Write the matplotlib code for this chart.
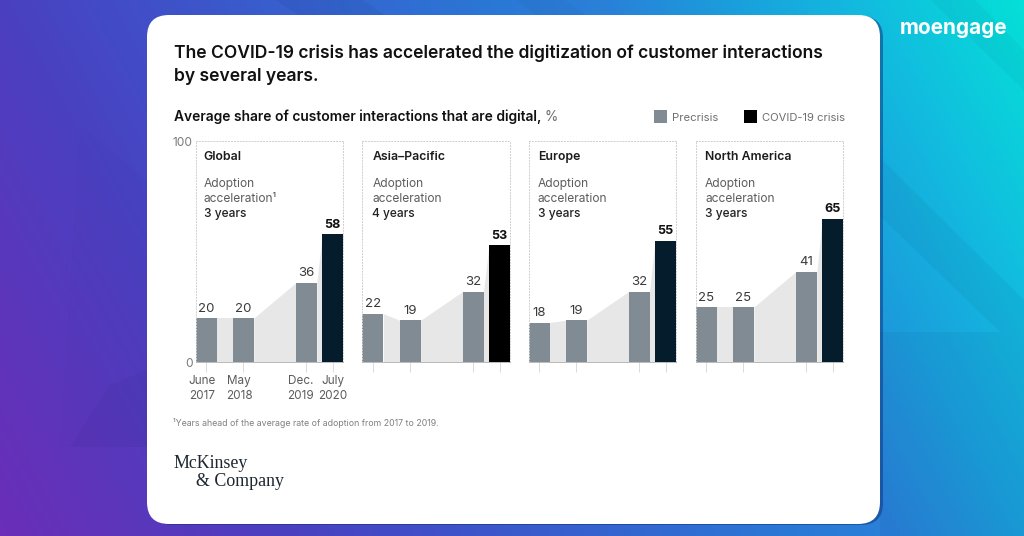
import numpy as np
import matplotlib
matplotlib.use("Agg")
import matplotlib.pyplot as plt
from matplotlib.patches import FancyBboxPatch, Polygon, Rectangle
from matplotlib.colors import LinearSegmentedColormap

plt.rcParams['font.family'] = ['Inter', 'DejaVu Sans']

regions = ["Global", "Asia\u2013Pacific", "Europe", "North America"]
years_ahead = ["3 years", "4 years", "3 years", "3 years"]
global_vals = [20, 20, 36, 58]
asia_vals = [22, 19, 32, 53]
europe_vals = [18, 19, 32, 55]
namerica_vals = [25, 25, 41, 65]
series = [global_vals, asia_vals, europe_vals, namerica_vals]
dates = [2017.42, 2018.35, 2019.92, 2020.58]
date_labels = ["June\n2017", "May\n2018", "Dec.\n2019", "July\n2020"]
legend_labels = ["Precrisis", "COVID-19 crisis"]

W, H = 1024, 536
GREY = "#808b94"
NAVY = "#041c2c"
TXT = "#1c1c1c"
SOFT = "#6e6e6e"
fs = lambda px: px * 0.72

fig = plt.figure(figsize=(W / 100, H / 100), dpi=100)
bg = fig.add_axes([0, 0, 1, 1])
bg.set_xlim(0, W); bg.set_ylim(H, 0); bg.axis("off")

# gradient background
yy, xx = np.mgrid[0:1:134j, 0:1:256j]
t = np.clip(xx * 0.78 + (1 - yy) * 0.22, 0, 1)
cmap = LinearSegmentedColormap.from_list("bg", [
    (0, "#6a2eb8"), (0.22, "#4a40c0"), (0.33, "#4050c8"), (0.6, "#2a78d6"),
    (0.68, "#2a80d8"), (0.78, "#1a9fdc"), (0.88, "#12bcdf"), (1, "#05dfd8")])
bg.imshow(t, cmap=cmap, vmin=0, vmax=1, extent=[0, W, H, 0], aspect="auto", zorder=0)
for pts, a in [([(880, 158), (1024, 300), (1024, 536), (880, 536), (880, 332), (1000, 332), (880, 216)], 0.05),
               ([(930, 0), (975, 0), (1024, 50), (1024, 90)], 0.04),
               ([(60, 447), (147, 447), (147, 180), (80, 125)], 0.012),
               ([(70, 447), (147, 447), (147, 370), (110, 385)], 0.05),
               ([(275, 0), (362, 0), (385, 15), (298, 15)], 0.06),
               ([(517, 0), (565, 0), (585, 15), (535, 15)], 0.03)]:
    bg.add_patch(Polygon(pts, closed=True, fc="#101a50", ec="none", alpha=a, zorder=1))

# card
bg.add_patch(FancyBboxPatch((170, 36), 693, 469, boxstyle="round,pad=20,rounding_size=22",
                            fc="#10307a", ec="none", alpha=0.5, zorder=2))
bg.add_patch(FancyBboxPatch((167, 35), 693, 469, boxstyle="round,pad=20,rounding_size=22",
                            fc="white", ec="none", zorder=3))


def T(x, y, s, px, color=TXT, weight="normal", ha="left", va="center", **kw):
    bg.text(x, y, s, fontsize=fs(px), color=color, fontweight=weight, ha=ha, va=va, zorder=6, **kw)


T(174, 58.5, "The COVID-19 crisis has accelerated the digitization of customer interactions",
  17.47, "#111111", "semibold", va="baseline")
T(174, 81, "by several years.", 17.47, "#111111", "semibold", va="baseline")
T(174, 121, "Average share of customer interactions that are digital,", 13.82, "#111111",
  "semibold", va="baseline")
T(544.5, 121, "%", 13.6, SOFT, va="baseline")

bg.add_patch(Rectangle((654, 110), 13, 12.5, fc=GREY, ec="none", zorder=6))
T(672, 121, legend_labels[0], 11.3, SOFT, va="baseline")
bg.add_patch(Rectangle((744, 110), 13, 12.5, fc="black", ec="none", zorder=6))
T(762, 121, legend_labels[1], 11.2, SOFT, va="baseline")

T(173, 426.5, "\u00b9Years ahead of the average rate of adoption from 2017 to 2019.", 8.8, "#808080",
  va="baseline")
bg.text(174, 468, "McKinsey", fontsize=fs(17.9), family="Liberation Serif", color="#1d2730",
        va="baseline", zorder=6)
bg.text(196, 486, "& Company", fontsize=fs(17.9), family="Liberation Serif", color="#1d2730",
        va="baseline", zorder=6)
T(900, 34, "moengage", 20.8, "white", "bold", va="baseline")

# panels
lefts = [195.5, 362.3, 528.5, 695.6]
rights = [343.3, 510.0, 676.0, 843.3]
text_x = [203.5, 372.5, 538, 705]
label_shift = [-3, -3, -4, 0]
top, base = 141.2, 362.3
for i, (reg, vals) in enumerate(zip(regions, series)):
    l, r = lefts[i], rights[i]
    ax = fig.add_axes([l / W, 1 - base / H, (r - l) / W, (base - top) / H], zorder=5)
    ax.patch.set_alpha(0)
    span = dates[3] - dates[0]
    half = 10.5 * span / (r - l - 21)
    ax.set_xlim(dates[0] - half, dates[3] + half)
    ax.set_ylim(0, 100)
    for a, b, va, vb in zip(dates[:-1], dates[1:], vals[:-1], vals[1:]):
        ax.fill_between([a + half, b - half], [va, vb], 0, color="#e7e7e7", lw=0, zorder=1)
    colors = [GREY, GREY, GREY, "black" if i == 1 else NAVY]
    ax.bar(dates, vals, width=2 * half, color=colors, lw=0, zorder=2)
    for k, (d, v) in enumerate(zip(dates, vals)):
        ax.annotate(str(v), (d, v), xytext=(0, 2.5), textcoords="offset points", ha="center",
                    va="bottom", fontsize=fs(12.6 if k == 3 else 13.2),
                    color="#111111" if k == 3 else "#3a3a3a",
                    fontweight="bold" if k == 3 else "normal")
    for s in ["top", "left", "right"]:
        ax.spines[s].set_linestyle((0, (1, 2)))
        ax.spines[s].set_color("#cfcfcf")
        ax.spines[s].set_linewidth(0.7)
    ax.spines["bottom"].set_color("#b0b0b0")
    ax.spines["bottom"].set_linewidth(0.6)
    ax.set_xticks(dates)
    ax.set_xticklabels([])
    ax.tick_params(axis="x", length=7.5, width=0.6, color="#d4d4d4")
    if i == 0:
        for d, lab, dx in zip(dates, date_labels, label_shift):
            ax.annotate(lab, (d, 0), xytext=(dx, -9.5), textcoords="offset points", ha="center",
                        va="top", fontsize=fs(11.7), color="#5c5c5c", linespacing=1.25,
                        annotation_clip=False)
        ax.set_yticks([0, 100])
        ax.set_yticklabels(["0", "100"], fontsize=fs(12), color="#7a7a7a")
        ax.tick_params(axis="y", length=0, pad=2)
    else:
        ax.set_yticks([])
    tx = text_x[i]
    T(tx, 160, reg, 12.3, "#1c1c1c", "semibold", va="baseline")
    T(tx, 187, "Adoption", 12, "#5c5c5c", va="baseline")
    T(tx, 202, "acceleration" + ("\u00b9" if i == 0 else ""), 12, "#5c5c5c", va="baseline")
    T(tx, 217.5, years_ahead[i], 12, "#222222", "medium", va="baseline")

fig.savefig("out.png", dpi=100)
